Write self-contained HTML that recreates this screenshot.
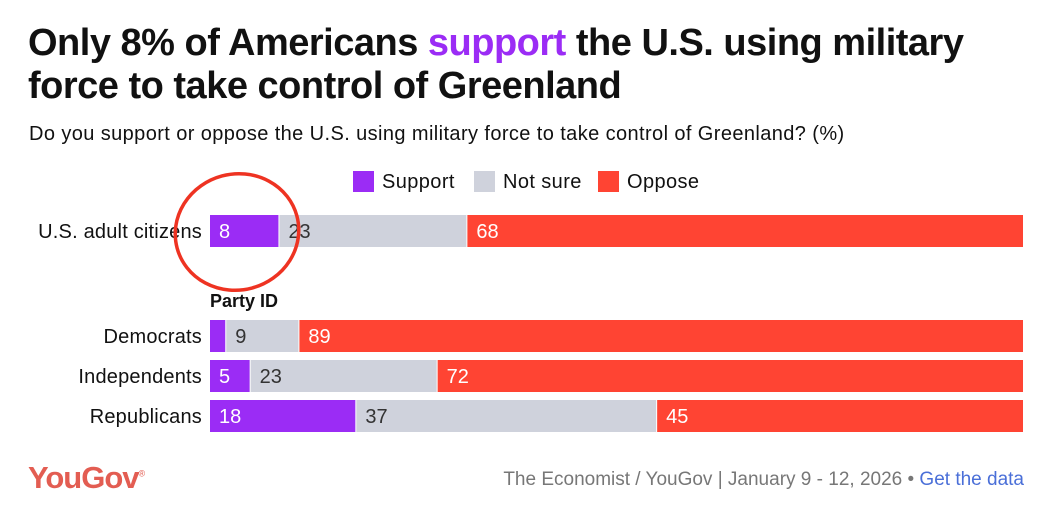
<!DOCTYPE html>
<html><head><meta charset="utf-8"><style>
body{margin:0;width:1055px;height:525px;background:#fff;font-family:"Liberation Sans",sans-serif;position:relative;overflow:hidden;color:#111}
.t{position:absolute;white-space:nowrap}
</style></head><body>
<div class="t" style="left:28px;top:22px;font-size:38px;font-weight:900;line-height:43px;letter-spacing:-0.5px">Only 8% of Americans <span style="color:#9b2cf5">support</span> the U.S. using military<br>force to take control of Greenland</div>
<div class="t" style="left:29px;top:123px;font-size:20px;letter-spacing:0.4px">Do you support or oppose the U.S. using military force to take control of Greenland? (%)</div>
<svg id="c" width="1055" height="525" style="position:absolute;left:0;top:0"></svg>
<div class="t" style="left:28px;top:460px;font-size:31px;font-weight:bold;color:#e35d52;letter-spacing:-1px">YouGov<sup style="font-size:9px;font-weight:normal">®</sup></div>
<div class="t" style="right:31px;top:469px;font-size:19px;color:#777">The Economist / YouGov | January 9 - 12, 2026 • <span style="color:#4a6fd8">Get the data</span></div>
<script>
const categories=["U.S. adult citizens","Democrats","Independents","Republicans"];
const support=[8.5,2,5,18];
const notSure=[23,9,23,37];
const oppose=[68,89,72,45];
const supportLabels=["8","","5","18"];
const seriesNames=["Support","Not sure","Oppose"];
const colors=["#9b2cf5","#cfd2dc","#ff4433"];
const NS="http://www.w3.org/2000/svg";
const svg=document.getElementById('c');
const x0=210,x1=1023,rowY=[215,320,360,400],bh=32;
function mk(t,a){const e=document.createElementNS(NS,t);for(const k in a)e.setAttribute(k,a[k]);svg.appendChild(e);return e;}
function xs(v,tot){return x0+v/tot*(x1-x0);}
const lx=[353,474,598];
seriesNames.forEach((n,i)=>{
 const r=mk('rect',{x:lx[i],y:171,width:21,height:21,fill:colors[i]});
 
 
 const t=mk('text',{x:lx[i]+29,y:188,'font-size':20,'letter-spacing':0.4,fill:'#111'});t.textContent=n;
 
 
});
const pt=mk('text',{x:210,y:307,'font-size':18,'font-weight':'bold',fill:'#111'});pt.textContent="Party ID";


categories.forEach((c,i)=>{
 const y=rowY[i];const tot=support[i]+notSure[i]+oppose[i];
 const vals=[support[i],notSure[i],oppose[i]];
 const labs=[supportLabels[i],String(notSure[i]),String(oppose[i])];
 const lc=['#fff','#333','#fff'];
 let acc=0;
 const lt=mk('text',{x:202,y:y+23,'font-size':20,'letter-spacing':0.2,'text-anchor':'end',fill:'#111'});lt.textContent=c;
 
 
 vals.forEach((v,j)=>{
  const a=xs(acc,tot),b=xs(acc+v,tot);acc+=v;
  const r=mk('rect',{x:a,y:y,width:b-a-(j<2?1:0),height:bh,fill:colors[j]});
  
  
  if(labs[j]){const t=mk('text',{x:a+9,y:y+23,'font-size':20,fill:lc[j]});t.textContent=labs[j];
  
  }
 });
});
const e=mk('ellipse',{cx:237,cy:232,rx:62,ry:58,fill:'none',stroke:'#ee3322','stroke-width':3.5,transform:'rotate(-15 237 232)'});


</script>
</body></html>
